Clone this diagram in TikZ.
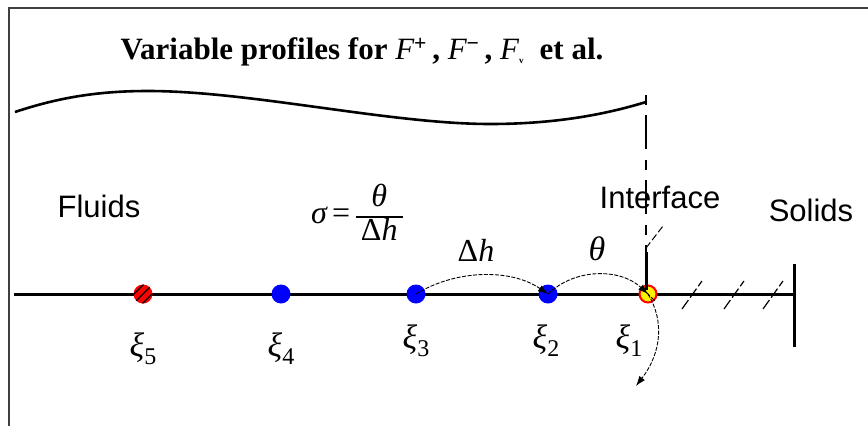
\documentclass[tikz,border=0pt]{standalone}
\usepackage{fontspec}
\setmainfont{Liberation Serif}
\newfontfamily\sansf{Liberation Sans}
\usetikzlibrary{arrows.meta,calc}
\newcommand{\xisub}[1]{{\itshape ξ}\raisebox{-8pt}{\fontsize{24}{24}\selectfont #1}}
\setlength{\arrayrulewidth}{1.2pt}
\begin{document}
\begin{tikzpicture}[x=1pt,y=-1pt,
  sanslabel/.style={font=\sansf\fontsize{31}{34}\selectfont, inner sep=0pt},
  mathlabel/.style={font=\fontsize{32}{34}\selectfont, inner sep=0pt},
  xilabel/.style={font=\fontsize{34}{36}\selectfont, inner sep=0pt},
  ptnode/.style={circle, minimum size=19pt, inner sep=0pt},
  bluept/.style={ptnode, fill=blue},
  redpt/.style={ptnode, fill=red},
  ifacept/.style={ptnode, minimum size=17pt, fill=yellow, draw=red, line width=2pt},
  axisline/.style={line width=3pt},
  dimarc/.style={line width=0.9pt, dash pattern=on 4pt off 1.5pt,
     -{Latex[length=10pt,width=7pt]}},
  hatch/.style={line width=1.2pt, dash pattern=on 11pt off 3pt}
]
\useasboundingbox (0,0) rectangle (868,426);
\fill[white] (0,0) rectangle (868,426);
% frame (open right and bottom)
\draw[black!75, line width=1.5pt] (9,426) -- (9,8) -- (868,8);

% title
\node[font=\bfseries\fontsize{31}{34}\selectfont, inner sep=0pt] (title) at (362,52)
  {Variable profiles for {\mdseries\itshape F}\textsuperscript{+}\,, {\mdseries\itshape F}\textsuperscript{\char"2212}\,, {\mdseries\itshape F}\textsubscript{\fontsize{9}{9}\selectfont v}\ \ et al.};

% profile curve
\coordinate (wS) at (15,112);
\coordinate (wE) at (646,102);
\draw[line width=2.6pt, line join=round] (wS)
  .. controls (60,97) and (100,91) .. (148,91)
  .. controls (250,91) and (390,124) .. (490,124)
  .. controls (560,124) and (610,113) .. (wE);

% axis and wall
\coordinate (axL) at (14,294);
\coordinate (axR) at (794,294);
\coordinate (wallT) at (794,264);
\coordinate (wallB) at (794,347);
\draw[axisline] (axL) -- (axR);
\draw[axisline] (wallT) -- (wallB);
% hatches
\draw[hatch] (682,309) -- (702,281);
\draw[hatch] (724,309) -- (744,281);
\draw[hatch] (763,309) -- (783,281);

% interface line
\coordinate (vtop) at (646,95);
\coordinate (vmid) at (646,252);
\draw[line width=1.3pt, dash pattern=on 10pt off 10pt on 34pt off 11pt] (vtop) -- (vmid);

% points
\node[redpt] (x5) at (143,294) {};
\begin{scope}
\clip (x5) circle (9.5pt);
\foreach \d in {-4.5,0,4.5}
  \draw[line width=1.1pt] ($(x5)+(-8+\d,8+\d)$) -- ($(x5)+(8+\d,-8+\d)$);
\end{scope}
\node[bluept] (x4) at (281,294) {};
\node[bluept] (x3) at (416,294) {};
\node[bluept] (x2) at (548,294) {};
\node[ifacept] (x1) at (648,294) {};
\draw[line width=3pt] (vmid) -- (646,290);
\draw[line width=1pt, dash pattern=on 5pt off 2pt] (x1.north west) -- (x1.south east);

% arcs
\draw[dimarc] (x3.center) .. controls (455,270) and (510,268) .. (x2.center);
\draw[dimarc] (x2.center) .. controls (575,268) and (620,268) .. (x1.center);
\coordinate (downEnd) at (636,386);
\draw[dimarc] (x1.center) .. controls (664,320) and (662,352) .. (downEnd);

% interface pointer
\coordinate (ifA) at (646,248);
\coordinate (ifB) at (663,226);
\draw[line width=1pt, dash pattern=on 7pt off 3pt] (ifA) -- (ifB);

% labels
\node[sanslabel] (fluids) at (99,206) {Fluids};
\node[sanslabel] (interface) at (660,197) {Interface};
\node[sanslabel] (solids) at (811,210) {Solids};
\node[mathlabel] (sigma) at (357,217) {{\itshape σ}\,=\,\renewcommand{\arraystretch}{0.95}\begin{tabular}{@{\,}c@{\,}}{\itshape θ}\\\hline Δ{\itshape h}\end{tabular}};
\node[mathlabel] (dh) at (476,250) {Δ{\itshape h}};
\node[font=\fontsize{34}{36}\selectfont\itshape, inner sep=0pt] (th) at (597,249) {θ};

\node[xilabel] (l5) at (143,349) {\xisub{5}};
\node[xilabel] (l4) at (281,349) {\xisub{4}};
\node[xilabel] (l3) at (416,341) {\xisub{3}};
\node[xilabel] (l2) at (546,341) {\xisub{2}};
\node[xilabel] (l1) at (629,341) {\xisub{1}};
\end{tikzpicture}
\end{document}
